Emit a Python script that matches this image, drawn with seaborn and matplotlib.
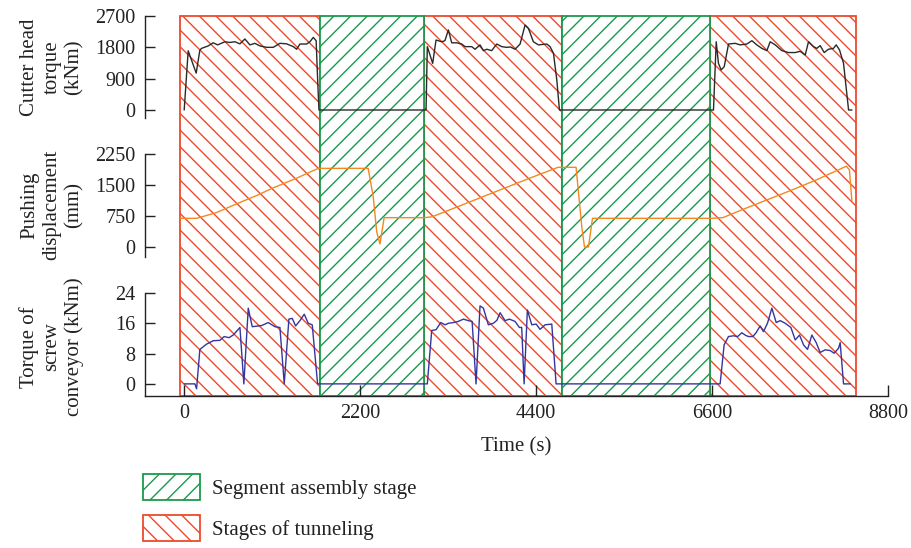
import matplotlib
matplotlib.use('Agg')
import matplotlib.pyplot as plt
import seaborn as sns
from matplotlib.patches import Patch

# stage boundaries (s)
tunnel_start = [-50, 3000, 6570]
tunnel_end = [1700, 4720, 8400]
assembly_start = [1700, 4720]
assembly_end = [3000, 6570]

# cutter head torque (kNm)
t_torque = [0, 50, 150, 196, 217, 300, 363, 418, 509, 570, 634, 697, 759, 822, 884, 947,
            1031, 1114, 1197, 1281, 1364, 1406, 1447, 1531, 1572, 1614, 1650, 1668, 1685,
            3024, 3040, 3107, 3149, 3220, 3260, 3303, 3345, 3408, 3470, 3512, 3595, 3637,
            3699, 3741, 3783, 3845, 3908, 3970, 4033, 4080, 4137, 4200, 4262, 4304, 4366,
            4429, 4534, 4575, 4617, 4659, 4692, 6618, 6652, 6680, 6714, 6752, 6806, 6889,
            6952, 7035, 7098, 7160, 7223, 7285, 7327, 7390, 7473, 7556, 7640, 7702, 7765,
            7806, 7869, 7910, 7952, 8002, 8056, 8118, 8152, 8194, 8244, 8307, 8349]
torque = [0, 1700, 1060, 1720, 1770, 1840, 1930, 1870, 1960, 1940, 1960, 1900, 2040, 1870, 1915, 1840,
          1800, 1800, 1915, 1900, 1820, 1745, 1895, 1895, 1960, 2085, 1990, 900, 0,
          0, 1820, 1340, 2010, 1960, 1990, 2300, 1930, 1930, 1895, 1820, 1820, 1745,
          1870, 1705, 1745, 1705, 1895, 1820, 1800, 1810, 1745, 1895, 2440, 2345, 1960,
          1870, 1895, 1820, 1630, 860, 0, 0, 1960, 1340, 1150, 1245, 1895, 1915,
          1870, 1895, 1990, 1870, 1770, 1705, 1960, 1870, 1705, 1650, 1650, 1685, 1580,
          1960, 1820, 1770, 1850, 1650, 1745, 1770, 1870, 1725, 1340, 0, 0]

# pushing displacement (mm)
t_disp = [-50, 155, 400, 700, 900, 1100, 1400, 1677, 2300, 2364, 2407, 2448, 2500, 3000,
          3099, 3400, 3700, 4000, 4300, 4674, 4900, 4971, 5005, 5055, 5105, 6598,
          6735, 7000, 7300, 7600, 7900, 8280, 8318, 8348]
disp = [694, 694, 830, 1080, 1240, 1420, 1660, 1903, 1903, 1217, 370, 73, 710, 710,
        730, 960, 1190, 1420, 1650, 1928, 1928, 491, 0, 0, 694, 694,
        710, 920, 1150, 1380, 1620, 1955, 1863, 1120]

# torque of screw conveyor (kNm)
t_screw = [0, 134, 155, 196, 280, 363, 446, 500, 560, 613, 697, 746, 801, 851, 968, 1051,
           1134, 1197, 1251, 1309, 1351, 1393, 1447, 1501, 1551, 1601, 1668,
           3040, 3095, 3149, 3208, 3262, 3303, 3366, 3428, 3491, 3553, 3600, 3649, 3699,
           3741, 3803, 3866, 3910, 3950, 4012, 4066, 4137, 4191, 4220, 4250, 4291, 4346,
           4400, 4450, 4512, 4596, 4650, 6701, 6751, 6805, 6868, 6920, 6973, 7020, 7056,
           7110, 7150, 7202, 7243, 7293, 7348, 7402, 7452, 7515, 7586, 7640, 7694, 7744,
           7794, 7848, 7902, 7952, 8015, 8077, 8127, 8181, 8202, 8244, 8328]
screw = [0, 0, -1.3, 9.1, 10.5, 11.4, 11.5, 12.5, 12.2, 12.9, 14.9, 0, 20.0, 15.1, 15.4, 16.2,
         15.1, 14.9, 0, 17.1, 17.3, 15.3, 16.7, 18.4, 16.0, 15.6, 0,
         0, 14.1, 14.3, 16.2, 15.6, 16.0, 16.2, 16.5, 17.1, 16.7, 16.5, 0, 20.6,
         20.0, 15.6, 16.0, 16.8, 18.8, 16.7, 17.1, 16.5, 14.9, 14.9, 0, 19.5, 15.6,
         15.8, 14.4, 15.6, 15.8, 0, 0, 10.3, 12.5, 12.7, 12.5, 13.5, 12.8, 12.5,
         12.5, 13.5, 15.3, 13.8, 16.0, 20.0, 16.2, 16.7, 16.0, 14.9, 11.6, 12.9, 10.3,
         9.1, 12.9, 10.9, 8.3, 9.0, 8.8, 8.1, 9.4, 10.9, 0, 0]

red = '#ee4a2c'
green = '#1a9a4c'
ink = '#222222'
fs = 15

sns.set_style('ticks')
plt.rcParams['font.family'] = ['Liberation Serif', 'DejaVu Serif']
plt.rcParams['font.size'] = fs
plt.rcParams['hatch.linewidth'] = 1.0

W, H = 911, 548
fig = plt.figure(figsize=(W / 100, H / 100), dpi=100)


def box(x0, y0, x1, y1):
    return [x0 / W, 1 - y1 / H, (x1 - x0) / W, (y1 - y0) / H]


xlim = (-490, 8800)

# hatched stage background
bg = fig.add_axes(box(145, 16, 888, 396))
bg.set_xlim(xlim)
bg.set_ylim(0, 1)
bg.axis('off')
for a, b in zip(tunnel_start, tunnel_end):
    r = bg.axvspan(a, b, facecolor='white', edgecolor=red, hatch='\\\\', lw=1.3)
    r.set_clip_on(False)
for a, b in zip(assembly_start, assembly_end):
    r = bg.axvspan(a, b, facecolor='white', edgecolor=green, hatch='//', lw=1.3)
    r.set_clip_on(False)

ax1 = fig.add_axes(box(145, 16, 888, 118))
ax2 = fig.add_axes(box(145, 154, 888, 257))
ax3 = fig.add_axes(box(145, 293, 888, 396))

sns.lineplot(x=t_torque, y=torque, ax=ax1, color='#2a2a2a', lw=1.0, estimator=None, sort=False)
sns.lineplot(x=t_disp, y=disp, ax=ax2, color='#f5871f', lw=1.0, estimator=None, sort=False)
sns.lineplot(x=t_screw, y=screw, ax=ax3, color='#3535a0', lw=1.0, estimator=None, sort=False)

ax1.set_ylim(-230, 2700)
ax1.set_yticks([0, 900, 1800, 2700])
ax2.set_ylim(-242, 2250)
ax2.set_yticks([0, 750, 1500, 2250])
ax3.set_ylim(-3.2, 24)
ax3.set_yticks([0, 8, 16, 24])

for ax in (ax1, ax2, ax3):
    ax.set_xlim(xlim)
    ax.patch.set_alpha(0)
    for s in ('top', 'right'):
        ax.spines[s].set_visible(False)
    ax.spines['left'].set_color(ink)
    ax.spines['left'].set_linewidth(1.0)
    ax.tick_params(axis='y', direction='in', length=7.5, width=1.0, pad=7,
                   color=ink, labelsize=14.5, labelcolor=ink)

for ax in (ax1, ax2):
    ax.spines['bottom'].set_visible(False)
    ax.tick_params(axis='x', bottom=False, labelbottom=False)

ax3.spines['bottom'].set_color(ink)
ax3.spines['bottom'].set_linewidth(1.0)
ax3.set_xticks([0, 2200, 4400, 6600, 8800])
ax3.tick_params(axis='x', direction='in', length=8, width=1.0, pad=6,
                color=ink, labelsize=14.5, labelcolor=ink)
ax3.set_xlabel('Time (s)', fontsize=fs, color=ink, labelpad=10)

ylabels = ['Cutter head\ntorque\n(kNm)', 'Pushing\ndisplacement\n(mm)', 'Torque of\nscrew\nconveyor (kNm)']
ycent = [67, 205, 347]
for lab, yc in zip(ylabels, ycent):
    fig.text(52 / W, 1 - yc / H, lab, rotation=90, ha='center', va='center',
             multialignment='center', fontsize=fs, color=ink, linespacing=1.22)

handles = [Patch(facecolor='white', edgecolor=green, hatch='//', lw=1.3, label='Segment assembly stage'),
           Patch(facecolor='white', edgecolor=red, hatch='\\\\', lw=1.3, label='Stages of tunneling')]
fig.legend(handles=handles, loc='upper left', bbox_to_anchor=(143 / W, 1 - 474 / H),
           frameon=False, borderpad=0, borderaxespad=0, handlelength=2.75, handleheight=1.55,
           labelspacing=0.72, handletextpad=0.58, fontsize=fs, labelcolor=ink)

fig.savefig('out.png', dpi=100)
